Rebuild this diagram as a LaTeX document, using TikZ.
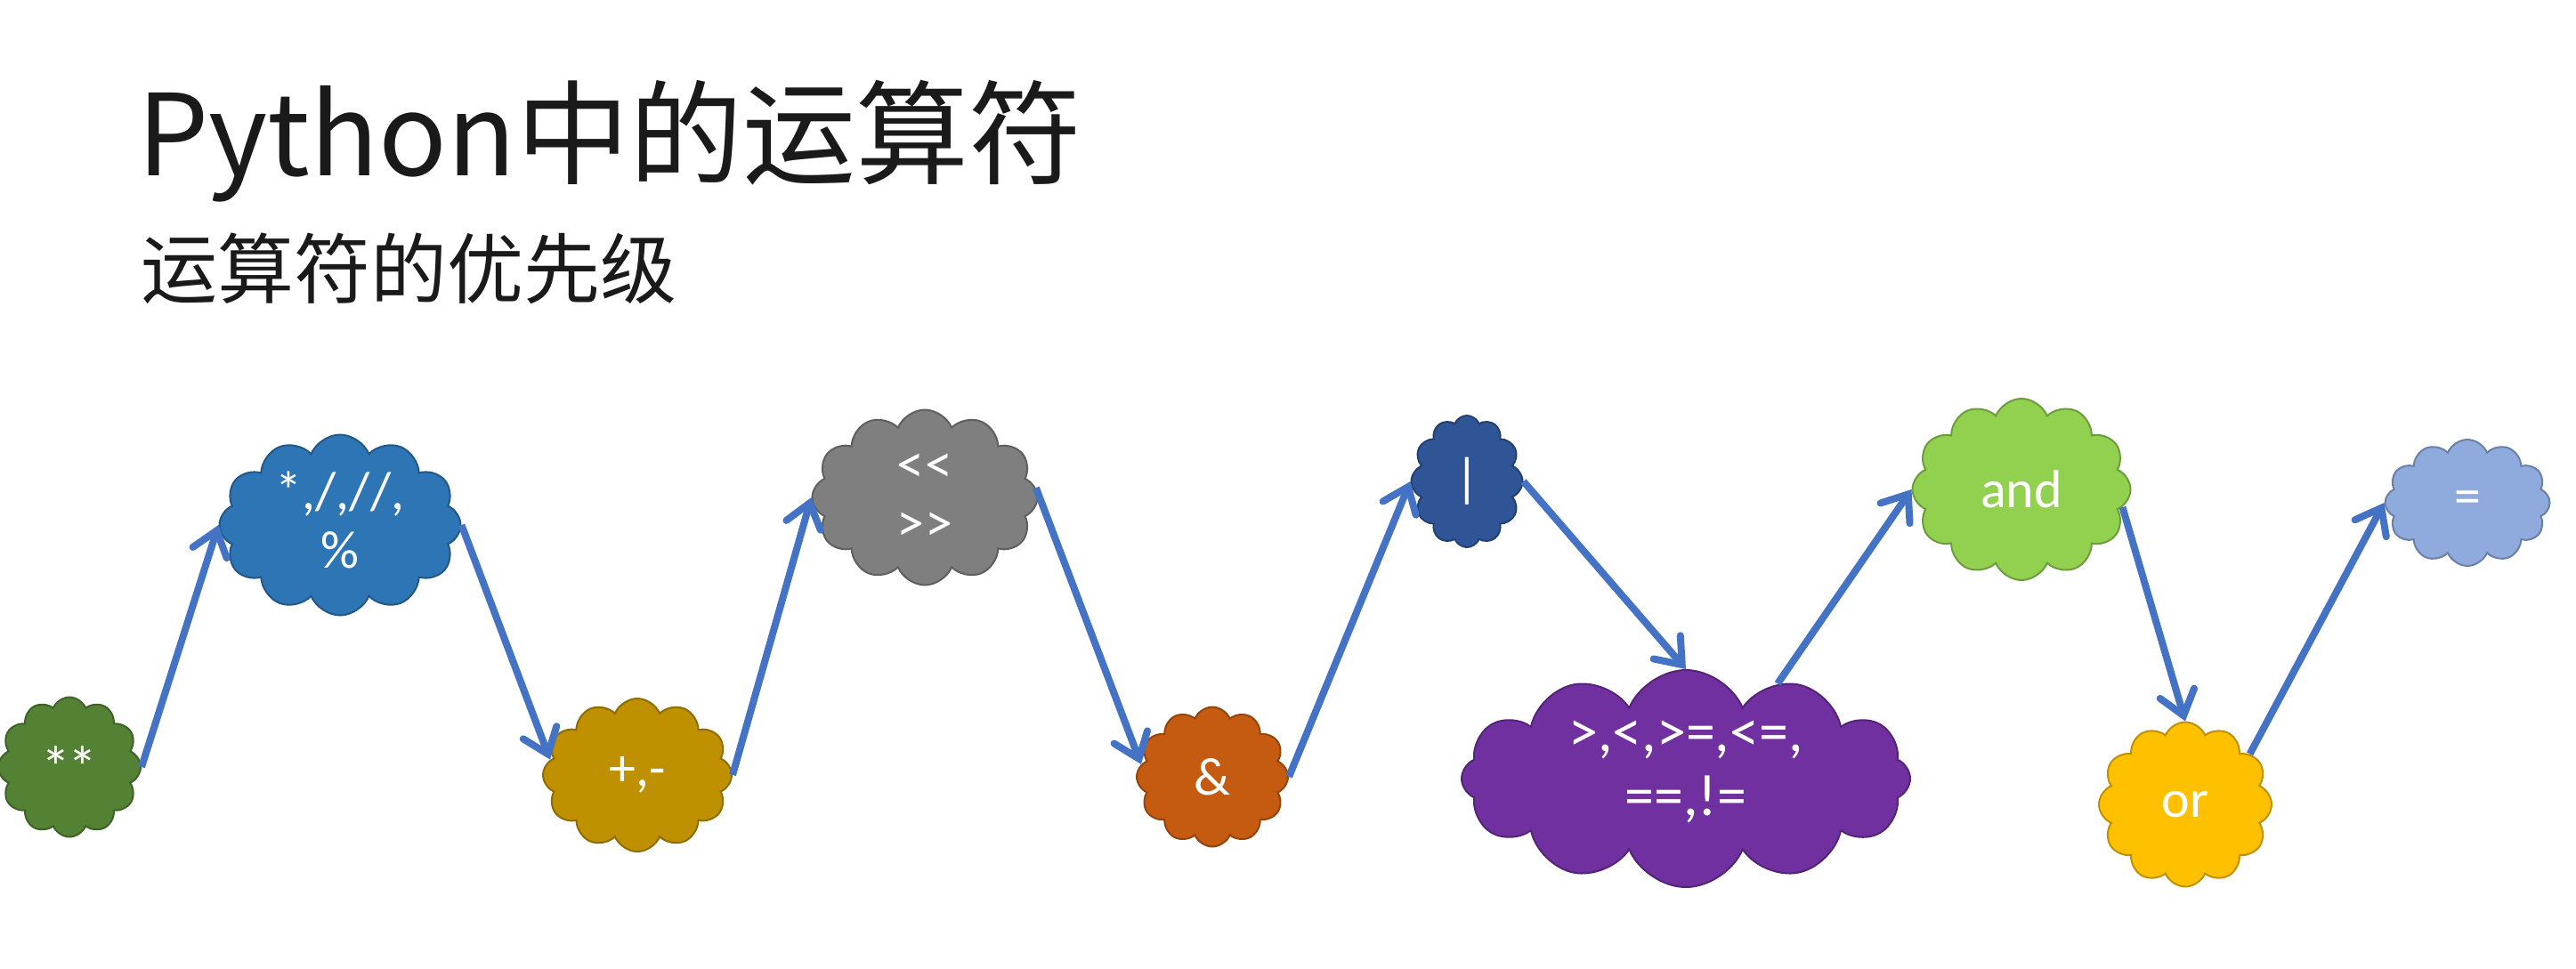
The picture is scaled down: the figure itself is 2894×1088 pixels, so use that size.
\documentclass[tikz,border=0pt]{standalone}
\usepackage{fontspec}
\setmainfont{Carlito}
\newfontfamily\cjk{Noto Sans CJK SC}
\usetikzlibrary{shapes.symbols,arrows.meta}
\definecolor{cA}{HTML}{548235}
\definecolor{cB}{HTML}{2E75B6}
\definecolor{cC}{HTML}{BF9000}
\definecolor{cD}{HTML}{7F7F7F}
\definecolor{cE}{HTML}{C55A11}
\definecolor{cF}{HTML}{2F5597}
\definecolor{cG}{HTML}{7030A0}
\definecolor{cH}{HTML}{92D050}
\definecolor{cI}{HTML}{FFC000}
\definecolor{cJ}{HTML}{8FAADC}
\definecolor{arrowblue}{HTML}{4472C4}
\definecolor{titlecol}{HTML}{1A1A1A}
\begin{document}
\begin{tikzpicture}[x=1pt,y=-1pt,
  cl/.style={cloud, cloud puffs=12, cloud puff arc=135, aspect=1.3, inner sep=0pt, line width=2pt, fill=#1, draw=#1!75!black},
  lbl/.style={text=white, font=\fontsize{60}{66}\selectfont, align=center, inner sep=0pt},
  arr/.style={draw=arrowblue, line width=8pt, -{Straight Barb[length=26pt,width=40pt,line cap=round]}}]
\useasboundingbox[fill=white] (0,0) rectangle (2894,1088);
\node[anchor=base west, inner sep=0pt, text=titlecol, font=\cjk\fontsize{127}{140}\selectfont] (title) at (154,197) {Python中的运算符};
\node[anchor=base west, inner sep=0pt, text=titlecol, font=\cjk\fontsize{86}{90}\selectfont] (sub) at (158,334) {运算符的优先级};

\node[cl=cA, minimum width=160pt, minimum height=157pt] (n1) at (78,862) {};
\node[cl=cB, minimum width=271pt, minimum height=203pt] (n2) at (382,590) {};
\node[cl=cC, minimum width=212pt, minimum height=172pt] (n3) at (716,871) {};
\node[cl=cD, minimum width=253pt, minimum height=197pt] (n4) at (1039,559) {};
\node[cl=cE, minimum width=170pt, minimum height=157pt] (n5) at (1362,873) {};
\node[cl=cF, minimum width=125pt, minimum height=148pt] (n6) at (1648,541) {};
\node[cl=cG, minimum width=504pt, minimum height=244pt] (n7) at (1894,875) {};
\node[cl=cH, minimum width=245pt, minimum height=204pt] (n8) at (2271,550) {};
\node[cl=cI, minimum width=194pt, minimum height=185pt] (n9) at (2455,904) {};
\node[cl=cJ, minimum width=185pt, minimum height=142pt] (n10) at (2772,565) {};

\node[lbl, font=\fontsize{66}{66}\selectfont] (t1) at (n1) {*\kern-3pt*};
\node[lbl] (t2) at ([yshift=6pt]n2.center) {*,/,//,\\\%};
\node[lbl] (t3) at (n3) {+,-};
\node[lbl, font=\fontsize{62}{66}\selectfont] (t4) at (n4) {<\kern2pt<\\>\kern2pt>};
\node[lbl] (t5) at (n5) {\&};
\node[lbl] (t6) at (n6) {|};
\node[lbl, font=\fontsize{66}{72}\selectfont] (t7) at ([yshift=8pt]n7.center) {>,<,>\kern0pt=,<\kern0pt=,\\=\kern0pt=,!\kern0pt=};
\node[lbl] (t8) at (n8) {and};
\node[lbl] (t9) at (n9) {or};
\node[lbl] (t10) at (n10) {=};

\draw[arr] (n1.east) -- (n2.west);
\draw[arr] (n2.east) -- (n3.170);
\draw[arr] (n3.east) -- (n4.west);
\draw[arr] (n4.5) -- (n5.170);
\draw[arr] (n5.east) -- (n6.west);
\draw[arr] (n6.east) -- (n7.north);
\draw[arr] (n7.46) -- (n8.west);
\draw[arr] (n8.-10) -- (n9.north);
\draw[arr] (n9.38) -- (n10.west);
\end{tikzpicture}
\end{document}
